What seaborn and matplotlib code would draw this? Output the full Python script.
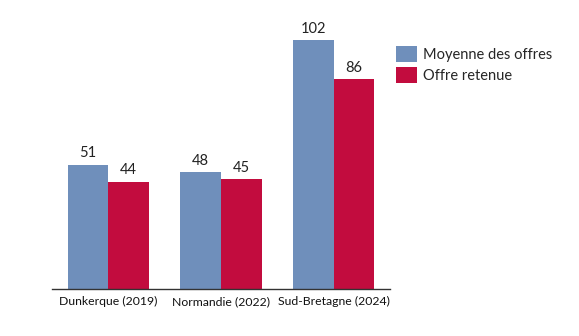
import matplotlib
matplotlib.use("Agg")
import matplotlib.pyplot as plt
import seaborn as sns
import pandas as pd

categories = ["Dunkerque (2019)", "Normandie (2022)", "Sud-Bretagne (2024)"]
series = ["Moyenne des offres", "Offre retenue"]
moyenne = [51, 48, 102]
retenue = [44, 45, 86]

df = pd.DataFrame({
    "site": categories * 2,
    "serie": [series[0]] * 3 + [series[1]] * 3,
    "valeur": moyenne + retenue,
})

sns.set_style("white")
plt.rcParams["font.family"] = ["Lato", "DejaVu Sans"]

fig = plt.figure(figsize=(5.79, 3.36), dpi=100)
ax = fig.add_axes([52/579, 1 - 289/336, (390-52)/579, (289-20.6)/336])
palette = ["#6F8FBB", "#C20C3E"]
sns.barplot(data=df, x="site", y="valeur", hue="serie", palette=palette,
            width=0.72, saturation=1, ax=ax, gap=0, linewidth=0)
ax.set_xlim(-0.5, 2.5)
ax.set_ylim(0, 110)
for c in ax.containers:
    ax.bar_label(c, fmt="%d", padding=3, fontsize=10.5, color="#222222")
for s in ["top", "right", "left"]:
    ax.spines[s].set_visible(False)
ax.spines["bottom"].set_color("#333333")
ax.spines["bottom"].set_linewidth(1)
ax.set_yticks([])
ax.set_xlabel("")
ax.set_ylabel("")
ax.tick_params(axis="x", length=0, labelsize=8.8, pad=5, colors="#111111")
leg = ax.legend(loc="upper left", bbox_to_anchor=(0.978, 0.955), frameon=False,
                fontsize=10.5, handlelength=1.45, handleheight=1.3, handletextpad=0.45,
                labelspacing=0.35)
for h in leg.legend_handles:
    h.set_linewidth(0)
fig.savefig("out.png", dpi=100)
